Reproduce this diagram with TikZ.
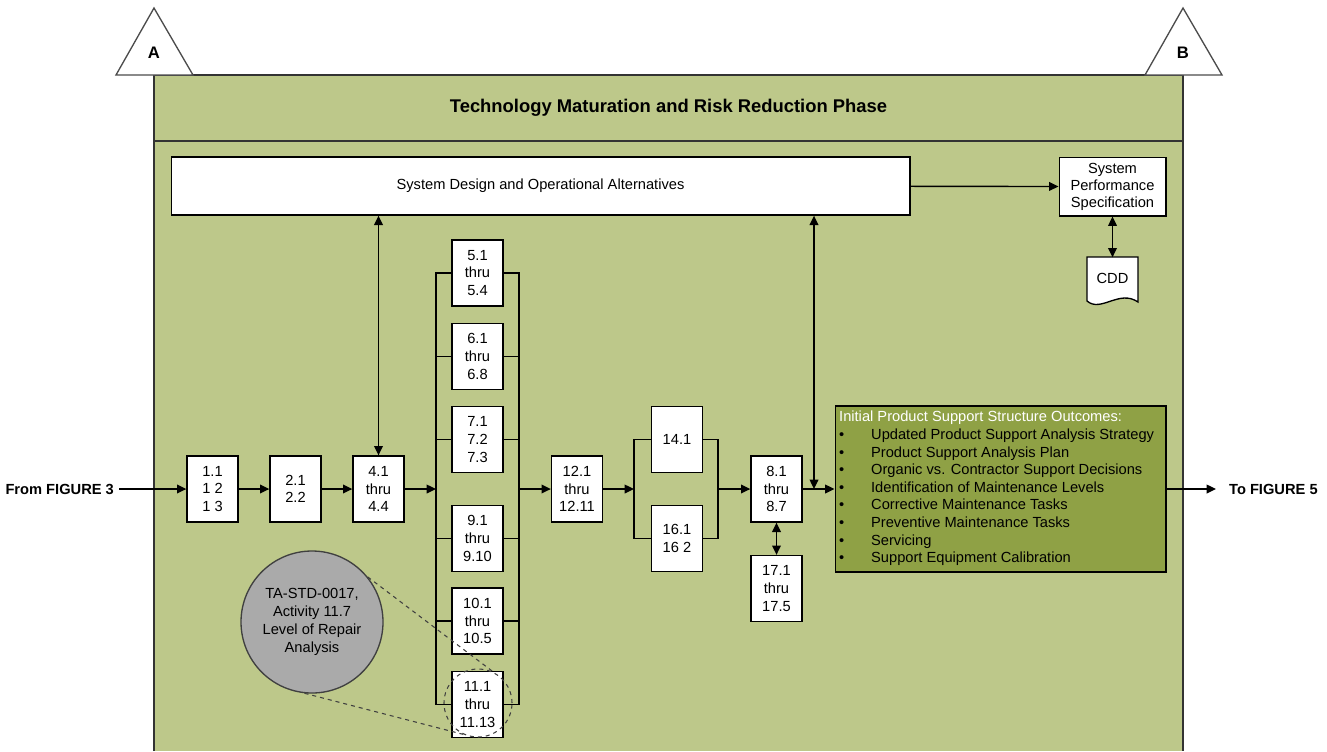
\documentclass[tikz,border=0pt]{standalone}
\usepackage{fontspec}
\setmainfont{Liberation Sans}
\usetikzlibrary{arrows.meta}
\definecolor{panelgreen}{RGB}{189,200,138}
\definecolor{outgreen}{RGB}{143,161,69}
\definecolor{circgray}{RGB}{170,170,170}
\tikzset{
  numbox/.style={draw, fill=white, align=center, minimum width=38.25pt,
    minimum height=49.5pt, inner sep=1pt},
  arr/.style={-{Triangle[length=7pt,width=6.5pt]}},
  dbl/.style={{Triangle[length=7pt,width=6.5pt]}-{Triangle[length=7pt,width=6.5pt]}},
}
\begin{document}
\begin{tikzpicture}[x=0.75pt, y=-0.75pt, line width=1pt,
  font=\fontsize{11}{13.2}\selectfont]
\useasboundingbox (0,0) rectangle (1327,751);
% phase panel
\fill[panelgreen] (154,75) rectangle (1183,751);
\draw[black!80, line width=1.2pt] (154,751) -- (154,75) -- (1183,75) -- (1183,751);
\draw[black!80] (154,141) -- (1183,141);
\node[font=\bfseries\fontsize{13.8}{16}\selectfont] (title) at (668.5,108)
  {Technology Maturation and Risk Reduction Phase};
% off-page connectors
\draw[black!70, fill=white] (116,75) -- (154,8) -- (193,75) -- cycle;
\draw[black!70, fill=white] (1145,75) -- (1183,8) -- (1222,75) -- cycle;
\node[font=\bfseries\fontsize{12.5}{14}\selectfont] (conA) at (154,53) {A};
\node[font=\bfseries\fontsize{12.5}{14}\selectfont] (conB) at (1183,53) {B};
% top row
\node[draw, fill=white, minimum width=554pt, minimum height=43.5pt] (sysd)
  at (540.5,186) {System Design and Operational Alternatives};
\node[draw, fill=white, align=center, minimum width=80pt, minimum height=44pt,
  inner sep=1pt, font=\fontsize{11}{12.8}\selectfont] (sps)
  at (1112.5,186.5) {System\\Performance\\Specification};
\draw[fill=white] (1138,257) -- (1087,257) -- (1087,301)
  .. controls (1101,313) and (1119,289) .. (1138,302) -- cycle;
\node[minimum width=38pt, minimum height=30pt, inner sep=0] (cdd) at (1112.5,278) {CDD};
% activity boxes
\node[numbox] (b11) at (212.5,489) {1.1\\1 2\\1 3};
\node[numbox] (b21) at (295.5,489) {2.1\\2.2};
\node[numbox] (b41) at (378.5,489) {4.1\\thru\\4.4};
\node[numbox] (b51) at (477.5,273) {5.1\\thru\\5.4};
\node[numbox] (b61) at (477.5,356.5) {6.1\\thru\\6.8};
\node[numbox] (b71) at (477.5,439.5) {7.1\\7.2\\7.3};
\node[numbox] (b91) at (477.5,538.5) {9.1\\thru\\9.10};
\node[numbox] (b101) at (477.5,621) {10.1\\thru\\10.5};
\node[numbox] (b111) at (477.5,704.5) {11.1\\thru\\11.13};
\node[numbox] (b121) at (577,489) {12.1\\thru\\12.11};
\node[numbox] (b141) at (677,439.5) {14.1};
\node[numbox] (b161) at (677,538.5) {16.1\\16 2};
\node[numbox] (b81) at (776.5,489) {8.1\\thru\\8.7};
\node[numbox] (b171) at (776.5,588.5) {17.1\\thru\\17.5};
% outcomes
\node[draw, fill=outgreen, minimum width=248pt, minimum height=124.5pt] (outc)
  at (1000.5,489) {};
\node[anchor=north west, inner sep=0] (outtxt) at ([shift={(4,3.5)}]outc.north west)
  {\begin{tabular}{@{}p{24pt}@{}l@{}}
   \multicolumn{2}{@{}l@{}}{\color{white}Initial Product Support Structure Outcomes:}\\
   \textbullet & Updated Product Support Analysis Strategy\\
   \textbullet & Product Support Analysis Plan\\
   \textbullet & Organic vs. Contractor Support Decisions\\
   \textbullet & Identification of Maintenance Levels\\
   \textbullet & Corrective Maintenance Tasks\\
   \textbullet & Preventive Maintenance Tasks\\
   \textbullet & Servicing\\
   \textbullet & Support Equipment Calibration
   \end{tabular}};
% figure links
\node[anchor=east, font=\bfseries\fontsize{11}{13}\selectfont] (from) at (119,489) {From FIGURE 3};
\node[anchor=west, font=\bfseries\fontsize{11}{13}\selectfont] (to) at (1224,489) {To FIGURE 5};
% level of repair callout
\node[circle, draw=black!75, fill=circgray, minimum size=106.5pt, inner sep=0,
  align=center, font=\fontsize{11}{13.5}\selectfont] (lora) at (312,622)
  {TA-STD-0017,\\Activity 11.7\\Level of Repair\\Analysis};
\node[circle, draw=black!75, dashed, line width=0.8pt, minimum size=51pt] (zoomc) at (478,703) {};
\draw[black!75, dashed, line width=0.8pt] (lora.39) -- (zoomc.63);
\draw[black!75, dashed, line width=0.8pt] (lora.-96) -- (zoomc.-114);
% junctions
\coordinate (jL) at (436,489);
\coordinate (jR) at (519,489);
\coordinate (jL2) at (634,489);
\coordinate (jR2) at (718,489);
\coordinate (jO) at (814,489);
% connectors
\draw[arr] (from.east) -- (b11.west);
\draw[arr] (b11) -- (b21);
\draw[arr] (b21) -- (b41);
\draw[arr] (b41) -- (jL);
\draw (b51.west) -| (jL) |- (b111.west);
\draw (b51.east) -| (jR) |- (b111.east);
\foreach \b in {b61,b71,b91,b101} {
  \draw (\b.west) -- (\b.west -| jL);
  \draw (\b.east) -- (\b.east -| jR);
}
\draw[arr] (jR) -- (b121);
\draw[arr] (b121) -- (jL2);
\draw (b141.west) -| (jL2) |- (b161.west);
\draw (b141.east) -| (jR2) |- (b161.east);
\draw[arr] (jR2) -- (b81);
\draw[arr] (b81) -- (outc);
\draw[dbl] (b81) -- (b171);
\draw[dbl] (b41.north |- sysd.south) -- (b41.north);
\draw[dbl] (jO |- sysd.south) -- (jO);
\draw[arr] (sysd) -- (sps);
\draw[dbl] (sps) -- (cdd.north);
\draw[arr] (outc) -- ([xshift=-6pt]to.west);
\end{tikzpicture}
\end{document}
